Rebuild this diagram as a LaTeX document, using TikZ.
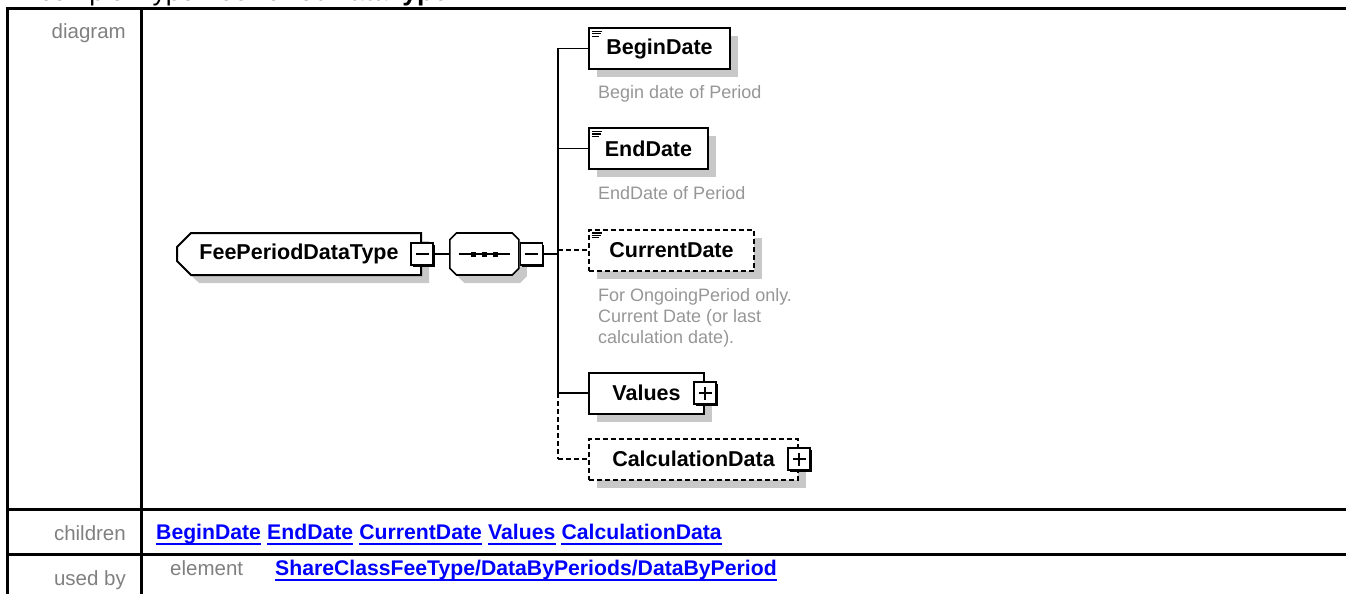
\documentclass[tikz,border=0pt]{standalone}
\usepackage{fontspec}
\setmainfont{Liberation Sans}
\usetikzlibrary{positioning,shapes.misc,shadows}
\definecolor{xsdshadow}{RGB}{200,200,200}
\definecolor{xsddesc}{RGB}{150,150,150}
\definecolor{xsdlabel}{RGB}{128,128,128}
\definecolor{xsdlink}{RGB}{0,0,255}
\newcommand{\xsdfont}{\fontsize{21.5}{24}\selectfont\bfseries}
\newcommand{\descfont}{\fontsize{18}{21}\selectfont}
\newcommand{\rowfont}{\fontsize{20.5}{24}\selectfont}
\newcommand{\linkfont}{\fontsize{21.2}{24}\selectfont\bfseries}
\newcommand{\simpleicon}[1]{%
  \begin{scope}[shift={#1}]
    \foreach \i/\len in {0/10,1/9,2/7} {\draw[line width=1.2pt] (4,{4.5+\i*2.4}) -- ++(\len,0);}
  \end{scope}}
\tikzset{
  xsdbox/.style={draw,line width=2pt,fill=white,anchor=west,inner sep=0pt,
    minimum height=41pt,font=\xsdfont,
    general shadow={fill=xsdshadow,draw=none,shadow xshift=8pt,shadow yshift=-8pt}},
  optline/.style={dash pattern=on 5pt off 3pt},
  optbox/.style={xsdbox,optline},
  toggle/.style={draw,line width=1.5pt,fill=white,minimum size=22pt,inner sep=0pt,
    general shadow={fill=black,draw=none,shadow xshift=2pt,shadow yshift=-2pt}},
  wire/.style={line width=1.6pt},
  desc/.style={anchor=north west,inner sep=0pt,font=\descfont,text=xsddesc,align=left},
  rowlabel/.style={anchor=base east,inner sep=0pt,font=\rowfont,text=xsdlabel},
  link/.style={inner sep=0pt,font=\linkfont,text=xsdlink,text height=15pt,text depth=5pt},
  tablerule/.style={line width=3pt}
}
\begin{document}
\begin{tikzpicture}[x=1pt,y=-1pt]
  \useasboundingbox (0,0) rectangle (1346,594);
  \node[anchor=base west,inner sep=0pt,font=\fontsize{26.5}{30}\selectfont] (title) at (39,0.5)
    {complexType \textbf{FeePeriodDataType}};
  % table frame
  \draw[tablerule] (1346,8.5) -- (7,8.5) -- (7,594);
  \draw[tablerule] (141,8.5) -- (141,594);
  \draw[tablerule] (7,509) -- (1346,509);
  \draw[tablerule] (7,554) -- (1346,554);
  \node[rowlabel] (diagramlbl) at (126,39) {diagram};
  \node[rowlabel] (childrenlbl) at (126,540) {children};
  \node[rowlabel] (usedbylbl) at (126,585) {used by};
  \node[rowlabel,anchor=base west] (elementlbl) at (170,575) {element};

  % type and sequence
  \node[xsdbox,chamfered rectangle,chamfered rectangle corners={north west,south west},
        chamfered rectangle sep=7pt,minimum width=244pt,minimum height=42pt] (feetype) at (176,254) {FeePeriodDataType};
  \node[toggle] (feetoggle) at (feetype.east) {};
  \node[draw,line width=1.6pt,fill=white,chamfered rectangle,chamfered rectangle sep=10pt,
        minimum width=69pt,minimum height=42pt,anchor=west,
        general shadow={fill=xsdshadow,draw=none,shadow xshift=8pt,shadow yshift=-8pt}] (seq) at (449,254) {};
  \draw[wire] ([xshift=10pt]seq.west) -- ([xshift=-10pt]seq.east);
  \foreach \dx in {-11,0,11} {\fill ([xshift=\dx pt]seq.center) ++(-2.5,-2.5) rectangle ++(5,5);}
  \node[toggle,anchor=west] (seqtoggle) at (seq.east) {};
  \coordinate (bus) at (558,254);

  % children
  \node[xsdbox,minimum width=141pt] (begindate) at (588,48.5) {BeginDate};
  \node[xsdbox,minimum width=119pt] (enddate) at (588,148.5) {EndDate};
  \node[optbox,minimum width=165pt] (currentdate) at (588,250) {CurrentDate};
  \node[xsdbox,minimum width=115pt] (values) at (588,393) {Values};
  \node[optbox,minimum width=209pt] (calcdata) at (588,459) {CalculationData};
  \node[toggle] (valuestoggle) at (values.east) {};
  \node[toggle] (calctoggle) at (calcdata.east) {};
  \foreach \b in {begindate,enddate,currentdate} {\simpleicon{(\b.north west)}}
  \foreach \t in {feetoggle,seqtoggle,valuestoggle,calctoggle}
    {\draw[wire] ([xshift=-6.5pt]\t.center) -- ([xshift=6.5pt]\t.center);}
  \foreach \t in {valuestoggle,calctoggle}
    {\draw[wire] ([yshift=-6.5pt]\t.center) -- ([yshift=6.5pt]\t.center);}

  \node[desc] (begindesc) at (598,85) {Begin date of Period};
  \node[desc] (enddesc) at (598,186) {EndDate of Period};
  \node[desc] (currentdesc) at (598,288) {For OngoingPeriod only.\\Current Date (or last\\calculation date).};

  \draw[wire] (feetoggle) -- (seq);
  \draw[wire] (seqtoggle) -- (bus);
  \draw[wire] (bus |- begindate.west) -- (bus |- values.west);
  \draw[wire,optline] (bus |- values.west) -- (bus |- calcdata.west);
  \foreach \c in {begindate,enddate,values} {\draw[wire] (bus |- \c.west) -- (\c.west);}
  \foreach \c in {currentdate,calcdata} {\draw[wire,optline] (bus |- \c.west) -- (\c.west);}

  % links
  \node[link,anchor=base west] (lnkbegin) at (156,539) {BeginDate};
  \node[link,right=5.8pt of lnkbegin] (lnkend) {EndDate};
  \node[link,right=5.8pt of lnkend] (lnkcurrent) {CurrentDate};
  \node[link,right=5.8pt of lnkcurrent] (lnkvalues) {Values};
  \node[link,right=5.8pt of lnkvalues] (lnkcalc) {CalculationData};
  \node[link,anchor=base west] (lnkusedby) at (275,575) {ShareClassFeeType/DataByPeriods/DataByPeriod};
  \foreach \l in {lnkbegin,lnkend,lnkcurrent,lnkvalues,lnkcalc,lnkusedby}
    {\draw[xsdlink,line width=1.8pt] ([yshift=-5pt]\l.base west) -- ([yshift=-5pt]\l.base east);}
\end{tikzpicture}
\end{document}
